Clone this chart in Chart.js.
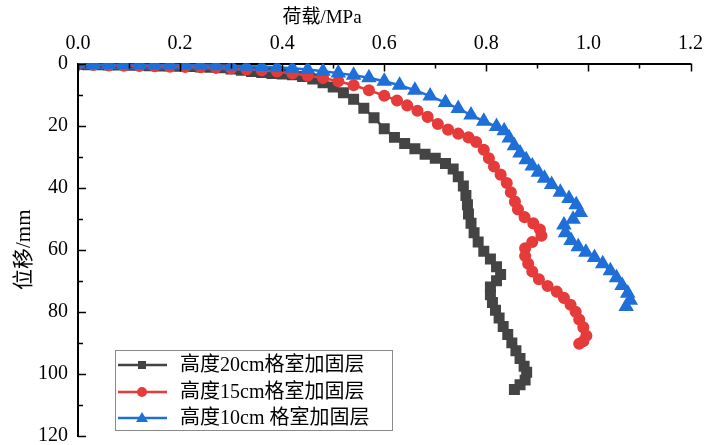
<!DOCTYPE html>
<html>
<head>
<meta charset="utf-8">
<script src="https://cdn.jsdelivr.net/npm/chart.js@4.4.1/dist/chart.umd.min.js"></script>
<style>
body { margin: 0; background: #fff; }
</style>
</head>
<body>
<canvas id="chart" width="711" height="445"></canvas>
<script>
// 荷载 (MPa) / 位移 (mm)
var load20 = [0,0.02,0.04,0.06,0.08,0.10,0.12,0.14,0.16,0.18,0.20,0.22,0.24,0.26,0.28,0.30,0.32,0.34,0.36,0.38,0.40,0.42,0.44,0.46,0.48,0.50,0.52,0.54,0.56,0.58,0.60,0.62,0.64,0.66,0.68,0.70,0.72,0.735,0.745,0.755,0.76,0.763,0.765,0.770,0.776,0.784,0.795,0.808,0.82,0.828,0.82,0.808,0.808,0.812,0.818,0.825,0.833,0.842,0.850,0.858,0.866,0.874,0.879,0.876,0.866,0.855];
var disp20 = [0.3,0.4,0.4,0.5,0.5,0.6,0.6,0.7,0.8,0.8,0.9,1.0,1.1,1.2,1.4,1.8,2.2,2.6,2.9,3.2,3.4,3.6,4.2,5.0,6.2,7.6,9.4,11.5,14.4,17.5,21.0,23.8,25.8,27.5,29.2,30.5,32.2,34.0,36.5,39.5,42.5,45.5,48.5,51.5,54.5,57.5,60.5,63,65.5,68,70,72,74.5,77,79.5,82,84.7,87.3,90,92.5,95,97.5,99.5,102,103.5,105];

var load15 = [0,0.03,0.06,0.09,0.12,0.15,0.18,0.21,0.24,0.27,0.30,0.33,0.36,0.39,0.42,0.45,0.48,0.51,0.54,0.57,0.60,0.625,0.645,0.665,0.685,0.705,0.725,0.745,0.765,0.78,0.795,0.805,0.815,0.828,0.84,0.848,0.856,0.862,0.875,0.892,0.905,0.908,0.89,0.876,0.876,0.882,0.89,0.903,0.92,0.938,0.952,0.965,0.975,0.982,0.99,0.996,0.99,0.982];
var disp15 = [0.3,0.5,0.6,0.7,0.8,0.9,1.0,1.1,1.2,1.4,1.6,1.9,2.2,2.6,3.2,3.9,4.7,5.7,7.0,8.6,10.4,11.9,13.5,15.2,17.2,19.5,21.3,22.6,23.8,25.3,27.8,30.5,33.2,35.8,38.5,41.5,44.5,47,49.5,51.5,53.5,55.5,57.5,59.5,62,64.5,67,69.5,71.7,73.5,75.5,77.7,80,82.5,85,87.7,89.5,90.3];

var load10 = [0,0.03,0.06,0.09,0.12,0.15,0.18,0.21,0.24,0.27,0.30,0.33,0.36,0.39,0.42,0.45,0.48,0.51,0.54,0.57,0.60,0.63,0.66,0.69,0.72,0.745,0.77,0.795,0.82,0.835,0.845,0.855,0.866,0.878,0.89,0.902,0.914,0.928,0.945,0.962,0.976,0.984,0.97,0.952,0.955,0.966,0.98,0.995,1.012,1.028,1.043,1.055,1.066,1.077,1.082,1.074];
var disp10 = [0.2,0.3,0.3,0.4,0.4,0.5,0.5,0.6,0.6,0.7,0.8,0.9,1.0,1.2,1.5,1.9,2.5,3.1,3.8,4.6,5.7,7.0,8.6,10.5,12.6,14.5,16.6,18.6,20.3,21.7,24,26.5,28.8,31,33,35,37,39,41.5,43.5,45.5,48,50.2,52,54.5,57,59,60.8,62.5,64.5,66.8,69,71.5,74,76.3,78.3];

var seriesNames = ['高度20cm格室加固层', '高度15cm格室加固层', '高度10cm 格室加固层'];
var xTitle = '荷载/MPa';
var yTitle = '位移/mm';

var serif = "'Liberation Serif', 'Times New Roman', 'Noto Sans CJK SC', serif";

function pts(xs, ys) {
  var out = [];
  for (var i = 0; i < xs.length; i++) out.push({x: xs[i], y: ys[i]});
  return out;
}

// ticks pointing inward, x title, legend box
var extras = {
  id: 'extras',
  afterDraw: function(chart) {
    var ctx = chart.ctx, a = chart.chartArea;
    var xs = chart.scales.x, ys = chart.scales.y;
    ctx.save();
    ctx.strokeStyle = '#000';
    ctx.lineWidth = 1.5;
    ctx.beginPath();
    for (var i = 0; i <= 12; i++) {
      var px = Math.round(xs.getPixelForValue(i / 10)) + 0.5;
      ctx.moveTo(px, a.top);
      ctx.lineTo(px, a.top + (i % 2 ? 5 : 8));
    }
    for (var j = 0; j <= 12; j++) {
      var py = Math.round(ys.getPixelForValue(j * 10)) + 0.5;
      ctx.moveTo(a.left, py);
      ctx.lineTo(a.left + (j % 2 ? 5 : 8), py);
    }
    ctx.stroke();

    ctx.fillStyle = '#000';
    ctx.font = '19px ' + serif;
    ctx.textAlign = 'center';
    ctx.textBaseline = 'middle';
    ctx.fillText(xTitle, 322, 18);

    // legend
    ctx.strokeStyle = '#8a8a8a';
    ctx.lineWidth = 1;
    ctx.strokeRect(115.5, 350.5, 277, 80);
    ctx.textAlign = 'left';
    ctx.font = '20px ' + serif;
    var rows = [365, 392, 418];
    chart.data.datasets.forEach(function(ds, k) {
      var y = rows[k];
      ctx.strokeStyle = ds.borderColor;
      ctx.lineWidth = 2.5;
      ctx.beginPath();
      ctx.moveTo(118, y);
      ctx.lineTo(167, y);
      ctx.stroke();
      ctx.fillStyle = ds.backgroundColor;
      ctx.beginPath();
      if (ds.pointStyle === 'rect') {
        ctx.rect(138, y - 4, 8, 8);
      } else if (ds.pointStyle === 'circle') {
        ctx.arc(142, y, 5, 0, Math.PI * 2);
      } else {
        ctx.moveTo(142, y - 6);
        ctx.lineTo(148, y + 4);
        ctx.lineTo(136, y + 4);
        ctx.closePath();
      }
      ctx.fill();
      ctx.fillStyle = '#000';
      ctx.fillText(ds.label, 180, y + 1);
    });
    ctx.restore();
  }
};

var config = {
  type: 'scatter',
  data: {
    datasets: [{
      label: seriesNames[0],
      data: pts(load20, disp20),
      borderColor: '#444444',
      backgroundColor: '#444444',
      pointStyle: 'rect',
      pointRadius: 6,
      borderWidth: 2.5,
      showLine: true,
      order: 3
    }, {
      label: seriesNames[1],
      data: pts(load15, disp15),
      borderColor: '#e63b3b',
      backgroundColor: '#e63b3b',
      pointStyle: 'circle',
      pointRadius: 4.8,
      borderWidth: 2.5,
      showLine: true,
      order: 2
    }, {
      label: seriesNames[2],
      data: pts(load10, disp10),
      borderColor: '#1f6fd8',
      backgroundColor: '#1f6fd8',
      pointStyle: 'triangle',
      pointRadius: 6.5,
      borderWidth: 2.5,
      showLine: true,
      order: 1
    }]
  },
  options: {
    responsive: false,
    animation: false,
    layout: { padding: { left: 0, right: 16, top: 0, bottom: 0 } },
    plugins: { legend: { display: false }, tooltip: { enabled: false } },
    scales: {
      x: {
        type: 'linear',
        position: 'top',
        min: 0,
        max: 1.2,
        grid: { display: false, drawTicks: false },
        border: { display: true, color: '#000', width: 2 },
        ticks: {
          stepSize: 0.2,
          padding: 8,
          color: '#000',
          font: { family: serif, size: 20 },
          callback: function(v) { return v.toFixed(1); }
        },
        afterFit: function(s) { s.height = 63.5; }
      },
      y: {
        type: 'linear',
        reverse: true,
        min: 0,
        max: 120,
        grid: { display: false, drawTicks: false },
        border: { display: true, color: '#000', width: 2 },
        ticks: {
          stepSize: 20,
          padding: 10,
          color: '#000',
          font: { family: serif, size: 20 }
        },
        title: {
          display: true,
          text: yTitle,
          color: '#000',
          font: { family: serif, size: 21 },
          padding: { top: 12, bottom: 0 }
        },
        afterFit: function(s) {
          s.width = 78;
          s.paddingTop = 0;
          s.paddingBottom = 9;
        }
      }
    }
  },
  plugins: [extras]
};

var chart = new Chart(document.getElementById('chart'), config);
</script>
</body>
</html>
